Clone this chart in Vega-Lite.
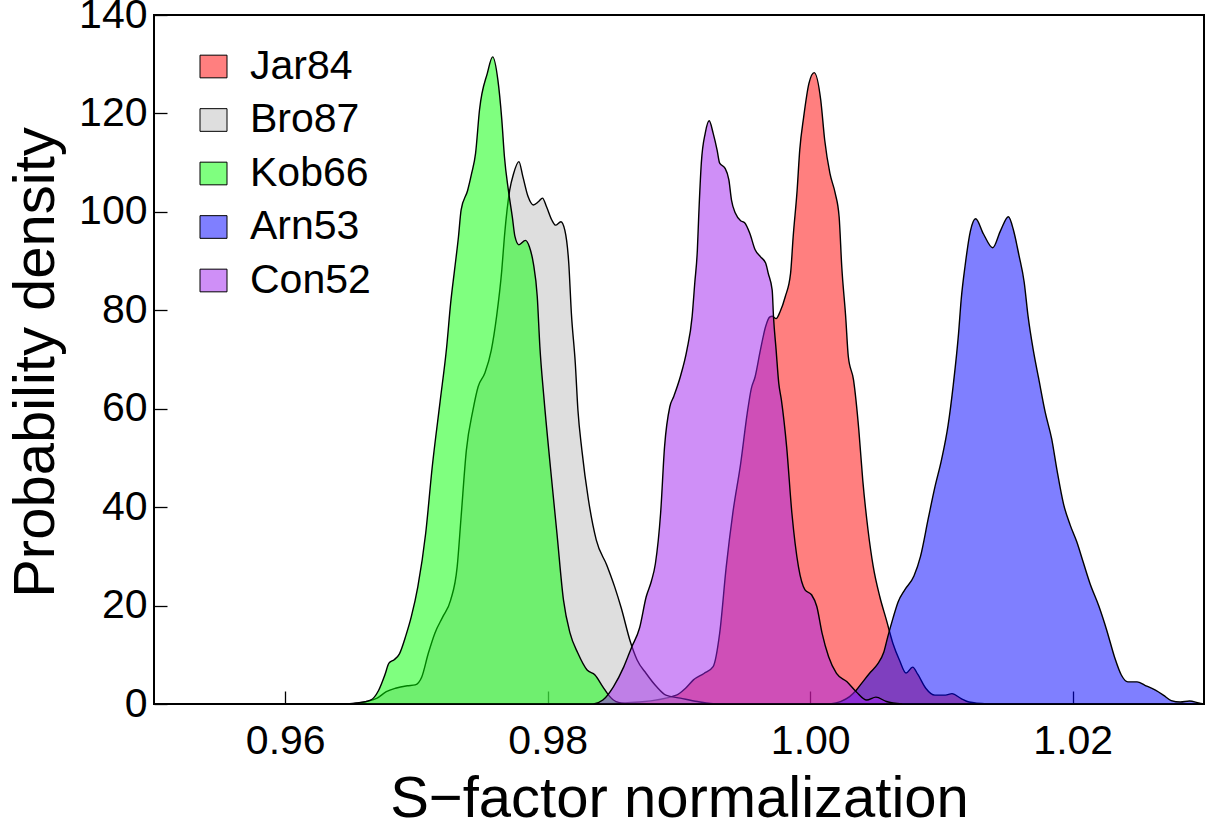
{
  "$schema": "https://vega.github.io/schema/vega-lite/v6.json",
  "width": 1050,
  "height": 689,
  "autosize": "none",
  "padding": {"left": 154, "top": 15, "right": 9, "bottom": 125},
  "background": "white",
  "config": {
    "font": "Liberation Sans",
    "view": {"stroke": "black", "strokeWidth": 2}
  },
  "datasets": {
    "posterior": [
      {"s": "Jar84", "x": 0.9835, "y": 0}, {"s": "Jar84", "x": 0.9870, "y": 0.4}, {"s": "Jar84", "x": 0.9898, "y": 1.8}, {"s": "Jar84", "x": 0.9905, "y": 3.2},
      {"s": "Jar84", "x": 0.9911, "y": 4.9}, {"s": "Jar84", "x": 0.9919, "y": 6.2}, {"s": "Jar84", "x": 0.9926, "y": 7.6}, {"s": "Jar84", "x": 0.9931, "y": 14.4},
      {"s": "Jar84", "x": 0.9936, "y": 27.9}, {"s": "Jar84", "x": 0.9941, "y": 38.8}, {"s": "Jar84", "x": 0.9947, "y": 48.9}, {"s": "Jar84", "x": 0.9952, "y": 59.1},
      {"s": "Jar84", "x": 0.9955, "y": 64.0}, {"s": "Jar84", "x": 0.9958, "y": 66.5}, {"s": "Jar84", "x": 0.9962, "y": 71.9}, {"s": "Jar84", "x": 0.9966, "y": 76.7},
      {"s": "Jar84", "x": 0.9969, "y": 78.6}, {"s": "Jar84", "x": 0.9971, "y": 78.8}, {"s": "Jar84", "x": 0.9974, "y": 78.3}, {"s": "Jar84", "x": 0.9977, "y": 79.7},
      {"s": "Jar84", "x": 0.9981, "y": 82.8}, {"s": "Jar84", "x": 0.9985, "y": 87.5}, {"s": "Jar84", "x": 0.9987, "y": 95.0}, {"s": "Jar84", "x": 0.9990, "y": 104.4},
      {"s": "Jar84", "x": 0.9992, "y": 112.6}, {"s": "Jar84", "x": 0.9995, "y": 119.3}, {"s": "Jar84", "x": 0.9999, "y": 126.1}, {"s": "Jar84", "x": 1.0003, "y": 128.3},
      {"s": "Jar84", "x": 1.0008, "y": 122.7}, {"s": "Jar84", "x": 1.0011, "y": 114.6}, {"s": "Jar84", "x": 1.0015, "y": 107.8}, {"s": "Jar84", "x": 1.0019, "y": 103.8},
      {"s": "Jar84", "x": 1.0022, "y": 99.0}, {"s": "Jar84", "x": 1.0024, "y": 88.9}, {"s": "Jar84", "x": 1.0027, "y": 78.7}, {"s": "Jar84", "x": 1.0029, "y": 70.6},
      {"s": "Jar84", "x": 1.0033, "y": 65.8}, {"s": "Jar84", "x": 1.0037, "y": 55.7}, {"s": "Jar84", "x": 1.0040, "y": 45.5}, {"s": "Jar84", "x": 1.0044, "y": 35.4},
      {"s": "Jar84", "x": 1.0048, "y": 27.9}, {"s": "Jar84", "x": 1.0053, "y": 21.8}, {"s": "Jar84", "x": 1.0058, "y": 17.1}, {"s": "Jar84", "x": 1.0063, "y": 12.3},
      {"s": "Jar84", "x": 1.0068, "y": 8.9}, {"s": "Jar84", "x": 1.0073, "y": 6.3}, {"s": "Jar84", "x": 1.0078, "y": 7.5}, {"s": "Jar84", "x": 1.0082, "y": 6.0},
      {"s": "Jar84", "x": 1.0088, "y": 3.2}, {"s": "Jar84", "x": 1.0095, "y": 1.8}, {"s": "Jar84", "x": 1.0103, "y": 1.8}, {"s": "Jar84", "x": 1.0108, "y": 2.1},
      {"s": "Jar84", "x": 1.0115, "y": 1.1}, {"s": "Jar84", "x": 1.0121, "y": 0.4}, {"s": "Jar84", "x": 1.0135, "y": 0},

      {"s": "Bro87", "x": 0.9650, "y": 0}, {"s": "Bro87", "x": 0.9662, "y": 0.5}, {"s": "Bro87", "x": 0.9670, "y": 1.2}, {"s": "Bro87", "x": 0.9677, "y": 2.5},
      {"s": "Bro87", "x": 0.9684, "y": 3.2}, {"s": "Bro87", "x": 0.9693, "y": 3.7}, {"s": "Bro87", "x": 0.9699, "y": 3.9}, {"s": "Bro87", "x": 0.9704, "y": 5.5},
      {"s": "Bro87", "x": 0.9709, "y": 10.3}, {"s": "Bro87", "x": 0.9714, "y": 14.4}, {"s": "Bro87", "x": 0.9720, "y": 17.7}, {"s": "Bro87", "x": 0.9726, "y": 21.1},
      {"s": "Bro87", "x": 0.9731, "y": 27.9}, {"s": "Bro87", "x": 0.9734, "y": 38.1}, {"s": "Bro87", "x": 0.9738, "y": 51.6}, {"s": "Bro87", "x": 0.9743, "y": 59.7},
      {"s": "Bro87", "x": 0.9747, "y": 64.5}, {"s": "Bro87", "x": 0.9752, "y": 67.2}, {"s": "Bro87", "x": 0.9757, "y": 71.9}, {"s": "Bro87", "x": 0.9761, "y": 78.7},
      {"s": "Bro87", "x": 0.9765, "y": 88.2}, {"s": "Bro87", "x": 0.9767, "y": 95.0}, {"s": "Bro87", "x": 0.9769, "y": 100.4}, {"s": "Bro87", "x": 0.9771, "y": 104.4},
      {"s": "Bro87", "x": 0.9774, "y": 107.8}, {"s": "Bro87", "x": 0.9778, "y": 110.2}, {"s": "Bro87", "x": 0.9781, "y": 107.2}, {"s": "Bro87", "x": 0.9785, "y": 103.1},
      {"s": "Bro87", "x": 0.9789, "y": 101.4}, {"s": "Bro87", "x": 0.9793, "y": 102.1}, {"s": "Bro87", "x": 0.9796, "y": 102.8}, {"s": "Bro87", "x": 0.9799, "y": 101.1},
      {"s": "Bro87", "x": 0.9803, "y": 98.4}, {"s": "Bro87", "x": 0.9806, "y": 97.3}, {"s": "Bro87", "x": 0.9810, "y": 98.0}, {"s": "Bro87", "x": 0.9813, "y": 96.3},
      {"s": "Bro87", "x": 0.9816, "y": 89.6}, {"s": "Bro87", "x": 0.9818, "y": 79.4}, {"s": "Bro87", "x": 0.9821, "y": 69.2}, {"s": "Bro87", "x": 0.9823, "y": 59.7},
      {"s": "Bro87", "x": 0.9826, "y": 51.6}, {"s": "Bro87", "x": 0.9831, "y": 41.5}, {"s": "Bro87", "x": 0.9837, "y": 33.3}, {"s": "Bro87", "x": 0.9845, "y": 28.2},
      {"s": "Bro87", "x": 0.9851, "y": 23.8}, {"s": "Bro87", "x": 0.9856, "y": 19.5}, {"s": "Bro87", "x": 0.9863, "y": 12.6}, {"s": "Bro87", "x": 0.9868, "y": 9.0},
      {"s": "Bro87", "x": 0.9875, "y": 6.2}, {"s": "Bro87", "x": 0.9883, "y": 3.5}, {"s": "Bro87", "x": 0.9890, "y": 1.8}, {"s": "Bro87", "x": 0.9901, "y": 1.2},
      {"s": "Bro87", "x": 0.9914, "y": 0.5}, {"s": "Bro87", "x": 0.9924, "y": 0.1}, {"s": "Bro87", "x": 0.9935, "y": 0},

      {"s": "Kob66", "x": 0.9647, "y": 0}, {"s": "Kob66", "x": 0.9654, "y": 0.2}, {"s": "Kob66", "x": 0.9665, "y": 0.8}, {"s": "Kob66", "x": 0.9671, "y": 2.7},
      {"s": "Kob66", "x": 0.9676, "y": 6.0}, {"s": "Kob66", "x": 0.9679, "y": 8.3}, {"s": "Kob66", "x": 0.9683, "y": 9.0}, {"s": "Kob66", "x": 0.9687, "y": 10.2},
      {"s": "Kob66", "x": 0.9692, "y": 14.0}, {"s": "Kob66", "x": 0.9696, "y": 17.7}, {"s": "Kob66", "x": 0.9701, "y": 23.8}, {"s": "Kob66", "x": 0.9707, "y": 34.7},
      {"s": "Kob66", "x": 0.9712, "y": 48.2}, {"s": "Kob66", "x": 0.9718, "y": 61.5}, {"s": "Kob66", "x": 0.9723, "y": 72.6}, {"s": "Kob66", "x": 0.9726, "y": 81.4},
      {"s": "Kob66", "x": 0.9729, "y": 88.2}, {"s": "Kob66", "x": 0.9732, "y": 95.0}, {"s": "Kob66", "x": 0.9734, "y": 100.4}, {"s": "Kob66", "x": 0.9739, "y": 104.4},
      {"s": "Kob66", "x": 0.9742, "y": 107.8}, {"s": "Kob66", "x": 0.9745, "y": 111.9}, {"s": "Kob66", "x": 0.9748, "y": 120.7}, {"s": "Kob66", "x": 0.9754, "y": 128.2},
      {"s": "Kob66", "x": 0.9758, "y": 131.5}, {"s": "Kob66", "x": 0.9762, "y": 126.8}, {"s": "Kob66", "x": 0.9765, "y": 118.7}, {"s": "Kob66", "x": 0.9767, "y": 111.2},
      {"s": "Kob66", "x": 0.9770, "y": 104.4}, {"s": "Kob66", "x": 0.9773, "y": 99.0}, {"s": "Kob66", "x": 0.9775, "y": 95.0}, {"s": "Kob66", "x": 0.9778, "y": 93.3},
      {"s": "Kob66", "x": 0.9783, "y": 94.2}, {"s": "Kob66", "x": 0.9786, "y": 92.9}, {"s": "Kob66", "x": 0.9789, "y": 89.6}, {"s": "Kob66", "x": 0.9792, "y": 82.8},
      {"s": "Kob66", "x": 0.9794, "y": 72.6}, {"s": "Kob66", "x": 0.9797, "y": 62.5}, {"s": "Kob66", "x": 0.9802, "y": 48.2}, {"s": "Kob66", "x": 0.9807, "y": 34.7},
      {"s": "Kob66", "x": 0.9812, "y": 21.1}, {"s": "Kob66", "x": 0.9817, "y": 14.4}, {"s": "Kob66", "x": 0.9823, "y": 10.3}, {"s": "Kob66", "x": 0.9830, "y": 6.9},
      {"s": "Kob66", "x": 0.9836, "y": 5.9}, {"s": "Kob66", "x": 0.9842, "y": 3.5}, {"s": "Kob66", "x": 0.9847, "y": 1.6}, {"s": "Kob66", "x": 0.9852, "y": 0.5},
      {"s": "Kob66", "x": 0.9862, "y": 0},

      {"s": "Arn53", "x": 1.0015, "y": 0}, {"s": "Arn53", "x": 1.0023, "y": 0.5}, {"s": "Arn53", "x": 1.0030, "y": 1.5}, {"s": "Arn53", "x": 1.0035, "y": 2.8},
      {"s": "Arn53", "x": 1.0040, "y": 4.5}, {"s": "Arn53", "x": 1.0046, "y": 6.5}, {"s": "Arn53", "x": 1.0051, "y": 8.0}, {"s": "Arn53", "x": 1.0056, "y": 10.5},
      {"s": "Arn53", "x": 1.0059, "y": 13.6}, {"s": "Arn53", "x": 1.0063, "y": 17.4}, {"s": "Arn53", "x": 1.0067, "y": 20.8}, {"s": "Arn53", "x": 1.0072, "y": 23.2},
      {"s": "Arn53", "x": 1.0079, "y": 26.0}, {"s": "Arn53", "x": 1.0084, "y": 30.0}, {"s": "Arn53", "x": 1.0090, "y": 37.8}, {"s": "Arn53", "x": 1.0095, "y": 44.1},
      {"s": "Arn53", "x": 1.0100, "y": 49.6}, {"s": "Arn53", "x": 1.0105, "y": 56.6}, {"s": "Arn53", "x": 1.0109, "y": 64.9}, {"s": "Arn53", "x": 1.0113, "y": 75.3},
      {"s": "Arn53", "x": 1.0115, "y": 82.2}, {"s": "Arn53", "x": 1.0118, "y": 89.1}, {"s": "Arn53", "x": 1.0122, "y": 96.1}, {"s": "Arn53", "x": 1.0126, "y": 98.6},
      {"s": "Arn53", "x": 1.0132, "y": 95.5}, {"s": "Arn53", "x": 1.0139, "y": 92.7}, {"s": "Arn53", "x": 1.0145, "y": 96.2}, {"s": "Arn53", "x": 1.0151, "y": 99.0},
      {"s": "Arn53", "x": 1.0155, "y": 96.1}, {"s": "Arn53", "x": 1.0159, "y": 91.2}, {"s": "Arn53", "x": 1.0163, "y": 85.7}, {"s": "Arn53", "x": 1.0166, "y": 78.7},
      {"s": "Arn53", "x": 1.0170, "y": 71.8}, {"s": "Arn53", "x": 1.0174, "y": 66.2}, {"s": "Arn53", "x": 1.0179, "y": 59.3}, {"s": "Arn53", "x": 1.0184, "y": 53.8},
      {"s": "Arn53", "x": 1.0188, "y": 47.5}, {"s": "Arn53", "x": 1.0193, "y": 40.6}, {"s": "Arn53", "x": 1.0198, "y": 36.4}, {"s": "Arn53", "x": 1.0203, "y": 33.0},
      {"s": "Arn53", "x": 1.0208, "y": 28.8}, {"s": "Arn53", "x": 1.0213, "y": 24.6}, {"s": "Arn53", "x": 1.0220, "y": 19.8}, {"s": "Arn53", "x": 1.0226, "y": 14.9},
      {"s": "Arn53", "x": 1.0232, "y": 9.4}, {"s": "Arn53", "x": 1.0237, "y": 5.9}, {"s": "Arn53", "x": 1.0242, "y": 4.5}, {"s": "Arn53", "x": 1.0249, "y": 4.5},
      {"s": "Arn53", "x": 1.0255, "y": 3.8}, {"s": "Arn53", "x": 1.0263, "y": 2.8}, {"s": "Arn53", "x": 1.0269, "y": 1.8}, {"s": "Arn53", "x": 1.0275, "y": 0.7},
      {"s": "Arn53", "x": 1.0282, "y": 0.4}, {"s": "Arn53", "x": 1.0289, "y": 0.6}, {"s": "Arn53", "x": 1.0296, "y": 0.2}, {"s": "Arn53", "x": 1.0300, "y": 0},

      {"s": "Con52", "x": 0.9835, "y": 0}, {"s": "Con52", "x": 0.9842, "y": 0.8}, {"s": "Con52", "x": 0.9850, "y": 3.5}, {"s": "Con52", "x": 0.9858, "y": 7.6},
      {"s": "Con52", "x": 0.9864, "y": 11.6}, {"s": "Con52", "x": 0.9870, "y": 15.5}, {"s": "Con52", "x": 0.9875, "y": 21.8}, {"s": "Con52", "x": 0.9879, "y": 25.0},
      {"s": "Con52", "x": 0.9882, "y": 28.5}, {"s": "Con52", "x": 0.9886, "y": 38.8}, {"s": "Con52", "x": 0.9889, "y": 52.3}, {"s": "Con52", "x": 0.9893, "y": 60.4},
      {"s": "Con52", "x": 0.9896, "y": 62.5}, {"s": "Con52", "x": 0.9901, "y": 66.5}, {"s": "Con52", "x": 0.9906, "y": 71.9}, {"s": "Con52", "x": 0.9910, "y": 78.7},
      {"s": "Con52", "x": 0.9912, "y": 85.5}, {"s": "Con52", "x": 0.9914, "y": 92.3}, {"s": "Con52", "x": 0.9915, "y": 99.0}, {"s": "Con52", "x": 0.9917, "y": 109.9},
      {"s": "Con52", "x": 0.9920, "y": 116.0}, {"s": "Con52", "x": 0.9923, "y": 118.5}, {"s": "Con52", "x": 0.9926, "y": 116.0}, {"s": "Con52", "x": 0.9929, "y": 112.6},
      {"s": "Con52", "x": 0.9931, "y": 109.9}, {"s": "Con52", "x": 0.9935, "y": 108.9}, {"s": "Con52", "x": 0.9938, "y": 106.5}, {"s": "Con52", "x": 0.9940, "y": 102.4},
      {"s": "Con52", "x": 0.9943, "y": 99.7}, {"s": "Con52", "x": 0.9947, "y": 98.2}, {"s": "Con52", "x": 0.9950, "y": 97.8}, {"s": "Con52", "x": 0.9954, "y": 95.6},
      {"s": "Con52", "x": 0.9958, "y": 92.3}, {"s": "Con52", "x": 0.9962, "y": 90.9}, {"s": "Con52", "x": 0.9966, "y": 89.6}, {"s": "Con52", "x": 0.9968, "y": 87.5},
      {"s": "Con52", "x": 0.9971, "y": 84.1}, {"s": "Con52", "x": 0.9972, "y": 78.7}, {"s": "Con52", "x": 0.9974, "y": 71.9}, {"s": "Con52", "x": 0.9976, "y": 65.2},
      {"s": "Con52", "x": 0.9978, "y": 61.8}, {"s": "Con52", "x": 0.9982, "y": 52.3}, {"s": "Con52", "x": 0.9986, "y": 38.8}, {"s": "Con52", "x": 0.9991, "y": 27.9},
      {"s": "Con52", "x": 0.9996, "y": 23.2}, {"s": "Con52", "x": 1.0001, "y": 22.2}, {"s": "Con52", "x": 1.0005, "y": 19.8}, {"s": "Con52", "x": 1.0009, "y": 14.4},
      {"s": "Con52", "x": 1.0014, "y": 9.6}, {"s": "Con52", "x": 1.0020, "y": 6.2}, {"s": "Con52", "x": 1.0028, "y": 4.5}, {"s": "Con52", "x": 1.0035, "y": 2.5},
      {"s": "Con52", "x": 1.0043, "y": 0.8}, {"s": "Con52", "x": 1.0050, "y": 1.4}, {"s": "Con52", "x": 1.0058, "y": 0.5}, {"s": "Con52", "x": 1.0070, "y": 0}
    ]
  },
  "data": {"name": "posterior"},
  "encoding": {
    "x": {
      "field": "x",
      "type": "quantitative",
      "scale": {"domain": [0.95, 1.03], "nice": false, "zero": false},
      "axis": {
        "values": [0.96, 0.98, 1.0, 1.02],
        "format": ".2f",
        "title": "S−factor normalization",
        "titleFontSize": 58,
        "titleFontWeight": "normal",
        "titleColor": "black",
        "titleX": 525,
        "titleY": 112,
        "titleBaseline": "alphabetic",
        "labelFontSize": 41,
        "labelColor": "black",
        "labelPadding": 30,
        "labelFlush": false,
        "tickSize": -13,
        "tickColor": "black",
        "tickWidth": 1.3,
        "domain": false,
        "grid": false
      }
    },
    "y": {
      "field": "y",
      "type": "quantitative",
      "stack": null,
      "scale": {"domain": [0, 140], "nice": false},
      "axis": {
        "values": [0, 20, 40, 60, 80, 100, 120, 140],
        "title": "Probability density",
        "titleFontSize": 58,
        "titleFontWeight": "normal",
        "titleColor": "black",
        "titleAngle": 270,
        "titleAlign": "center",
        "titleBaseline": "alphabetic",
        "titleX": -101,
        "titleY": 347,
        "labelFontSize": 41,
        "labelColor": "black",
        "labelPadding": 20,
        "labelFlush": false,
        "tickSize": -13,
        "tickColor": "black",
        "tickWidth": 1.3,
        "domain": false,
        "grid": false
      }
    },
    "color": {
      "field": "s",
      "type": "nominal",
      "scale": {
        "domain": ["Jar84", "Bro87", "Kob66", "Arn53", "Con52"],
        "range": ["#ff0000", "#bebebe", "#00ff00", "#0000ff", "#a020f0"]
      },
      "legend": {
        "title": null,
        "orient": "none",
        "legendX": 39,
        "legendY": 31,
        "padding": 0,
        "labelFontSize": 41,
        "labelColor": "black",
        "labelOffset": 16,
        "rowPadding": 11.5,
        "symbolType": "M-1,-0.84L1,-0.84L1,0.84L-1,0.84Z",
        "symbolSize": 729,
        "symbolStrokeColor": "black",
        "symbolStrokeWidth": 1,
        "encode": {
          "symbols": {
            "update": {
              "fillOpacity": {"value": 0.5},
              "stroke": {"value": "black"},
              "strokeWidth": {"value": 1},
              "opacity": {"value": 1}
            }
          }
        }
      }
    }
  },
  "layer": [
    {
      "transform": [{"filter": {"field": "s", "equal": "Jar84"}}],
      "mark": {"type": "area", "interpolate": "monotone", "fillOpacity": 0.5, "stroke": "black", "strokeWidth": 1.4}
    },
    {
      "transform": [{"filter": {"field": "s", "equal": "Bro87"}}],
      "mark": {"type": "area", "interpolate": "monotone", "fillOpacity": 0.5, "stroke": "black", "strokeWidth": 1.4}
    },
    {
      "transform": [{"filter": {"field": "s", "equal": "Kob66"}}],
      "mark": {"type": "area", "interpolate": "monotone", "fillOpacity": 0.5, "stroke": "black", "strokeWidth": 1.4}
    },
    {
      "transform": [{"filter": {"field": "s", "equal": "Arn53"}}],
      "mark": {"type": "area", "interpolate": "monotone", "fillOpacity": 0.5, "stroke": "black", "strokeWidth": 1.4}
    },
    {
      "transform": [{"filter": {"field": "s", "equal": "Con52"}}],
      "mark": {"type": "area", "interpolate": "monotone", "fillOpacity": 0.5, "stroke": "black", "strokeWidth": 1.4}
    }
  ]
}
